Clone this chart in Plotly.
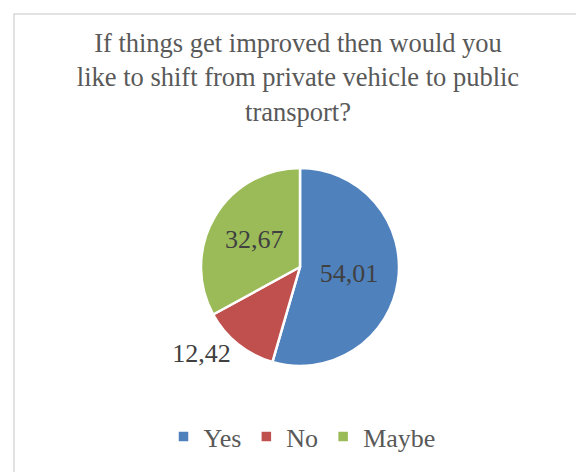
import plotly.graph_objects as go

categories = ["Yes", "No", "Maybe"]
values = [54.01, 12.42, 32.67]
colors = ["#4F81BD", "#C0504D", "#9BBB59"]
title_text = "If things get improved then would you<br>like to shift from private vehicle to public<br>transport?"

W, H = 584, 472
cx, cy, r = 292, 259, 99

fig = go.Figure(go.Pie(
    labels=categories,
    values=values,
    sort=False,
    direction="clockwise",
    rotation=0,
    marker=dict(colors=colors, line=dict(color="white", width=2.5)),
    texttemplate="%{value:.2f}",
    textposition=["inside", "outside", "inside"],
    insidetextorientation="horizontal",
    textfont=dict(family="Liberation Serif", size=26, color="#404040"),
    domain=dict(x=[(cx - r) / W, (cx + r) / W], y=[(H - cy - r) / H, (H - cy + r) / H]),
    hoverinfo="label+value",
))

fig.update_layout(
    width=W, height=H,
    margin=dict(l=0, r=0, t=0, b=0),
    paper_bgcolor="white",
    separators=", ",
    font=dict(family="Liberation Serif", color="#595959"),
    title=dict(text=title_text, x=290 / W, xanchor="center", y=1 - 44 / H, yanchor="top",
               font=dict(family="Liberation Serif", size=26.5, color="#595959")),
    legend=dict(orientation="h", x=294 / W, xanchor="center", y=1 - 405 / H, yanchor="top",
                font=dict(family="Liberation Serif", size=26, color="#595959"),
                itemwidth=30, traceorder="normal"),
    showlegend=True,
    shapes=[dict(type="rect", xref="paper", yref="paper",
                 x0=6 / W, x1=1.05, y0=-0.05, y1=1 - 6 / H,
                 line=dict(color="#D9D9D9", width=1.5))],
)

fig.write_html("out.html")
